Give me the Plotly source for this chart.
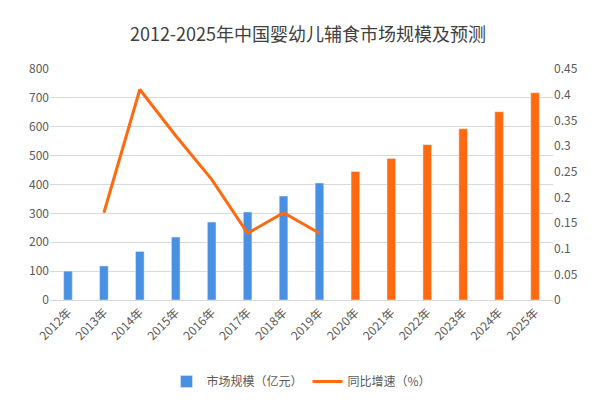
import plotly.graph_objects as go

years = [f"{y}年" for y in range(2012, 2026)]
market = [100, 118, 168, 218, 270, 305, 360, 405, 445, 490, 538, 593, 652, 718]
growth_years = [f"{y}年" for y in range(2013, 2020)]
growth = [0.17, 0.41, 0.32, 0.235, 0.13, 0.17, 0.13]

bar_colors = ["#4a90e2"] * 8 + ["#ff6a10"] * 6

fig = go.Figure()
fig.add_trace(go.Bar(x=years, y=market, name="市场规模（亿元）", marker_color=bar_colors, width=0.24))
fig.add_trace(go.Scatter(x=growth_years, y=growth, name="同比增速（%）", yaxis="y2", mode="lines",
                         line=dict(color="#ff6a10", width=3)))
fig.update_layout(
    width=600, height=400,
    font=dict(family="Noto Sans CJK SC", size=12, color="#595959"),
    title=dict(text="2012-2025年中国婴幼儿辅食市场规模及预测", x=0.5, y=0.95, xanchor="center",
               font=dict(size=18, color="#404040")),
    margin=dict(l=42, r=55, t=61, b=95),
    plot_bgcolor="white", paper_bgcolor="white",
    xaxis=dict(tickangle=-45, showline=True, linecolor="#d9d9d9", ticks=""),
    yaxis=dict(range=[0, 800], dtick=100, gridcolor="#d9d9d9", zeroline=False),
    yaxis2=dict(range=[0, 0.45], dtick=0.05, overlaying="y", side="right", showgrid=False,
                tickformat="~g", zeroline=False),
    legend=dict(orientation="h", x=0.5, xanchor="center", y=-0.29, yanchor="top"),
    showlegend=True,
)
fig.write_html("out.html")
